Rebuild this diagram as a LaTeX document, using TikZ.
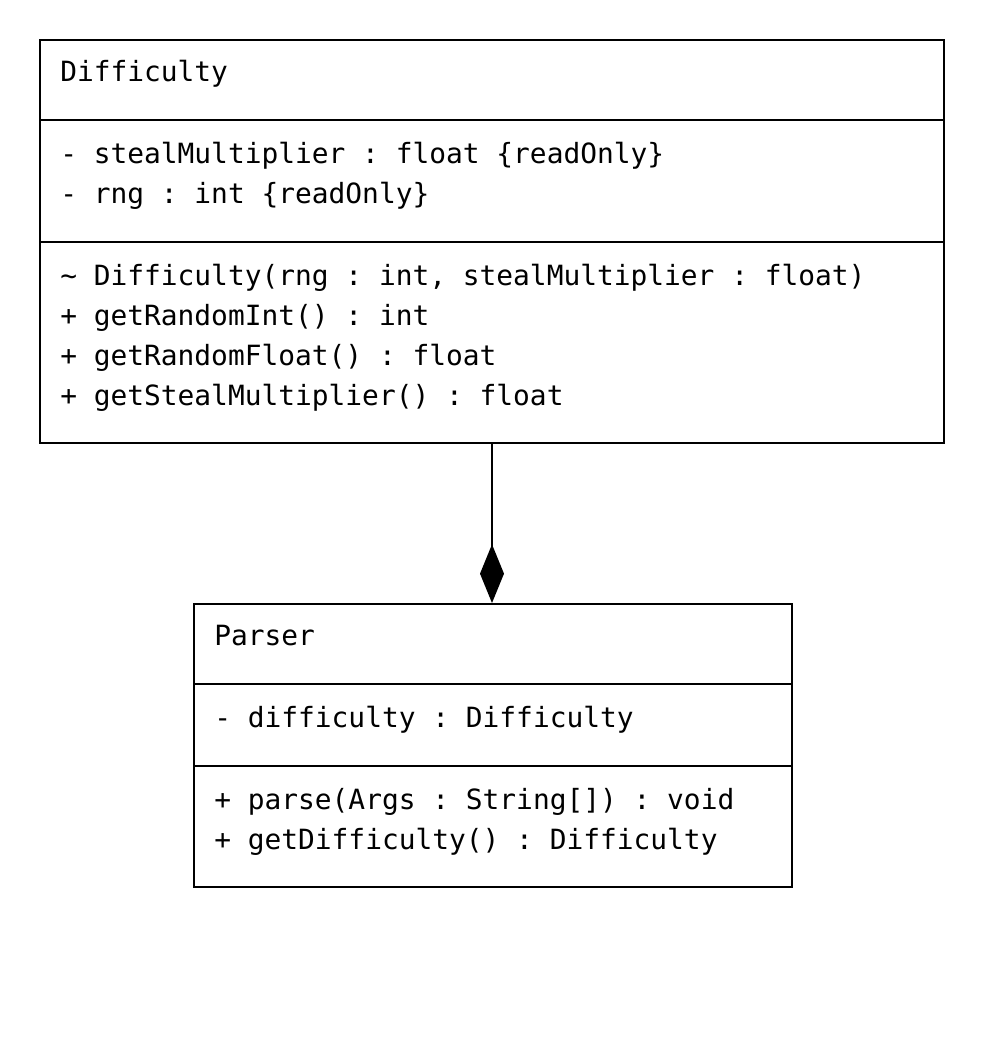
\documentclass[tikz,border=0pt]{standalone}
\usepackage{fontspec}
\setmonofont{DejaVu Sans Mono}
\usetikzlibrary{arrows.meta}
\tikzset{
  classbox/.style={draw=black, line width=1.5pt, rectangle, inner sep=0pt, fill=white},
  sep/.style={line width=1.5pt},
  umltext/.style={anchor=base west, inner sep=0pt, font=\ttfamily\fontsize{20.9pt}{25pt}\selectfont},
  composition/.style={line width=1.5pt, -{Diamond[length=44pt, width=18pt, line width=0pt]}}
}
\begin{document}
\begin{tikzpicture}[x=0.75pt, y=-0.75pt]
\useasboundingbox[fill=white] (0,0) rectangle (1004,1056);
% Difficulty class
\node[classbox, minimum width=678pt, minimum height=302.25pt] (diff) at (492,241.5) {};
\draw[sep] (40,120) -- (944,120);
\draw[sep] (40,242) -- (944,242);
\node[umltext] (d0) at (60,81) {Difficulty};
\node[umltext] (d1) at (60,163) {- stealMultiplier : float \{readOnly\}};
\node[umltext] (d2) at (60,203) {- rng : int \{readOnly\}};
\node[umltext] (d3) at (60,285) {\char`~{} Difficulty(rng : int, stealMultiplier : float)};
\node[umltext] (d4) at (60,325) {+ getRandomInt() : int};
\node[umltext] (d5) at (60,365) {+ getRandomFloat() : float};
\node[umltext] (d6) at (60,405) {+ getStealMultiplier() : float};
% Parser class
\node[classbox, minimum width=448.5pt, minimum height=212.25pt] (parser) at (493,745.5) {};
\draw[sep] (194,684) -- (792,684);
\draw[sep] (194,766) -- (792,766);
\node[umltext] (p0) at (214,645) {Parser};
\node[umltext] (p1) at (214,727) {- difficulty : Difficulty};
\node[umltext] (p2) at (214,809) {+ parse(Args : String[]) : void};
\node[umltext] (p3) at (214,849) {+ getDifficulty() : Difficulty};
% composition
\coordinate (tip) at (diff.south |- parser.north);
\draw[composition] (diff.south) -- (tip);
\end{tikzpicture}
\end{document}
